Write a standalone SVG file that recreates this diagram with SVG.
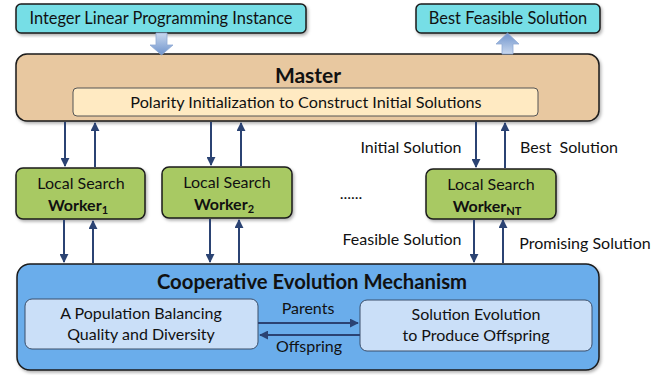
<svg xmlns="http://www.w3.org/2000/svg" width="667" height="375" viewBox="0 0 667 375">
  <style>
    text { font-family: Lato, "Open Sans", "Liberation Sans", sans-serif; fill: #111; text-anchor: middle; }
    .lbl { font-size: 16px; }
    .bold { font-weight: bold; }
    .box { stroke: #1a1a1a; stroke-width: 1.5; filter: url(#shadow); }
    .inner { stroke: #555; stroke-width: 1; }
    .io { fill: #76DEE6; }
    .master { fill: #E8C8A0; }
    .init { fill: #FFEAC2; }
    .worker { fill: #A8C964; }
    .coop { fill: #6AADEB; }
    .sub { fill: #CADFF8; stroke: #3a4e6a; }
    .link { stroke: #2B4373; stroke-width: 2; fill: none; marker-end: url(#head); }
  </style>
  <defs>
    <marker id="head" viewBox="0 0 10 10" refX="9" refY="5" markerWidth="4.5" markerHeight="4.5" orient="auto" markerUnits="strokeWidth">
      <path d="M0,0 L10,5 L0,10 z" fill="#2B4373"/>
    </marker>
    <linearGradient id="blockDown" x1="0" y1="0" x2="0" y2="1">
      <stop offset="0" stop-color="#C9D8EE"/>
      <stop offset="1" stop-color="#6E93CC"/>
    </linearGradient>
    <linearGradient id="blockUp" x1="0" y1="1" x2="0" y2="0">
      <stop offset="0" stop-color="#C9D8EE"/>
      <stop offset="1" stop-color="#6E93CC"/>
    </linearGradient>
    <filter id="shadow" x="-5%" y="-10%" width="110%" height="125%">
      <feDropShadow dx="1.5" dy="2" stdDeviation="1.5" flood-color="#000" flood-opacity="0.3"/>
    </filter>
  </defs>

  <!-- input / output -->
  <g id="ilp-instance">
    <rect class="box io" x="16" y="4" width="290" height="29" rx="5"/>
    <text x="161" y="24" style="font-size:16.4px">Integer Linear Programming Instance</text>
  </g>
  <g id="best-feasible">
    <rect class="box io" x="416" y="4" width="184" height="29" rx="5"/>
    <text x="508" y="24" style="font-size:16.4px">Best Feasible Solution</text>
  </g>

  <!-- master -->
  <g id="master">
    <rect class="box master" x="16" y="54" width="583" height="67" rx="11"/>
    <text class="bold" x="308" y="83" style="font-size:21px">Master</text>
    <rect class="inner init" x="73" y="88" width="465" height="28" rx="4"/>
    <text x="306" y="108" style="font-size:16.2px">Polarity Initialization to Construct Initial Solutions</text>
  </g>

  <!-- workers -->
  <g id="worker-1">
    <rect class="box worker" x="16" y="168" width="129" height="51" rx="7"/>
    <text class="lbl" x="81" y="189">Local Search</text>
    <text class="lbl bold" x="78" y="211">Worker<tspan dy="3" style="font-size:11px">1</tspan></text>
  </g>
  <g id="worker-2">
    <rect class="box worker" x="162" y="167" width="130" height="51" rx="7"/>
    <text class="lbl" x="227" y="188">Local Search</text>
    <text class="lbl bold" x="224" y="210">Worker<tspan dy="3" style="font-size:11px">2</tspan></text>
  </g>
  <g id="worker-nt">
    <rect class="box worker" x="426" y="169" width="130" height="50" rx="7"/>
    <text class="lbl" x="491" y="190">Local Search</text>
    <text class="lbl bold" x="487" y="212">Worker<tspan dy="3" style="font-size:11px">NT</tspan></text>
  </g>
  <g id="ellipsis">
    <text class="lbl" x="351" y="199">......</text>
  </g>

  <!-- cooperative evolution -->
  <g id="cooperative-evolution">
    <rect class="box coop" x="17" y="264" width="582" height="106" rx="13"/>
    <text class="bold" x="312" y="289" style="font-size:20.3px">Cooperative Evolution Mechanism</text>
  </g>
  <g id="population">
    <rect class="inner sub" x="25" y="299" width="233" height="50" rx="7"/>
    <text class="lbl" x="141" y="319">A Population Balancing</text>
    <text class="lbl" x="141" y="340">Quality and Diversity</text>
  </g>
  <g id="solution-evolution">
    <rect class="inner sub" x="360" y="300" width="232" height="51" rx="7"/>
    <text class="lbl" x="476" y="320">Solution Evolution</text>
    <text class="lbl" x="476" y="341">to Produce Offspring</text>
  </g>

  <!-- connectors -->
  <g id="connectors">
    <!-- block arrows -->
    <path d="M156,33 H167 V45 H173 L161.5,55 L150,45 H156 Z" fill="url(#blockDown)" stroke="#8FA9D4" stroke-width="0.8"/>
    <path d="M502,54 V44 H496 L507.5,33 L519,44 H513 V54 Z" fill="url(#blockUp)" stroke="#8FA9D4" stroke-width="0.8"/>

    <!-- master <-> workers -->
    <line class="link" x1="65" y1="122" x2="65" y2="166"/>
    <line class="link" x1="95" y1="167" x2="95" y2="123"/>
    <line class="link" x1="211" y1="122" x2="211" y2="165"/>
    <line class="link" x1="241" y1="166" x2="241" y2="123"/>
    <line class="link" x1="476" y1="122" x2="476" y2="167"/>
    <line class="link" x1="505" y1="168" x2="505" y2="123"/>

    <!-- workers <-> cooperative evolution -->
    <line class="link" x1="64" y1="220" x2="64" y2="262"/>
    <line class="link" x1="93" y1="263" x2="93" y2="221"/>
    <line class="link" x1="210" y1="219" x2="210" y2="262"/>
    <line class="link" x1="239" y1="263" x2="239" y2="220"/>
    <line class="link" x1="474" y1="220" x2="474" y2="262"/>
    <line class="link" x1="503" y1="263" x2="503" y2="220"/>

    <!-- population <-> evolution -->
    <line class="link" x1="258" y1="323" x2="358" y2="323"/>
    <line class="link" x1="360" y1="335" x2="260" y2="335"/>

    <text class="lbl" x="411" y="153">Initial Solution</text>
    <text class="lbl" x="569" y="153" xml:space="preserve">Best  Solution</text>
    <text class="lbl" x="402" y="245">Feasible Solution</text>
    <text class="lbl" x="585" y="249">Promising Solution</text>
    <text class="lbl" x="308" y="314">Parents</text>
    <text class="lbl" x="309" y="352">Offspring</text>
  </g>
</svg>
